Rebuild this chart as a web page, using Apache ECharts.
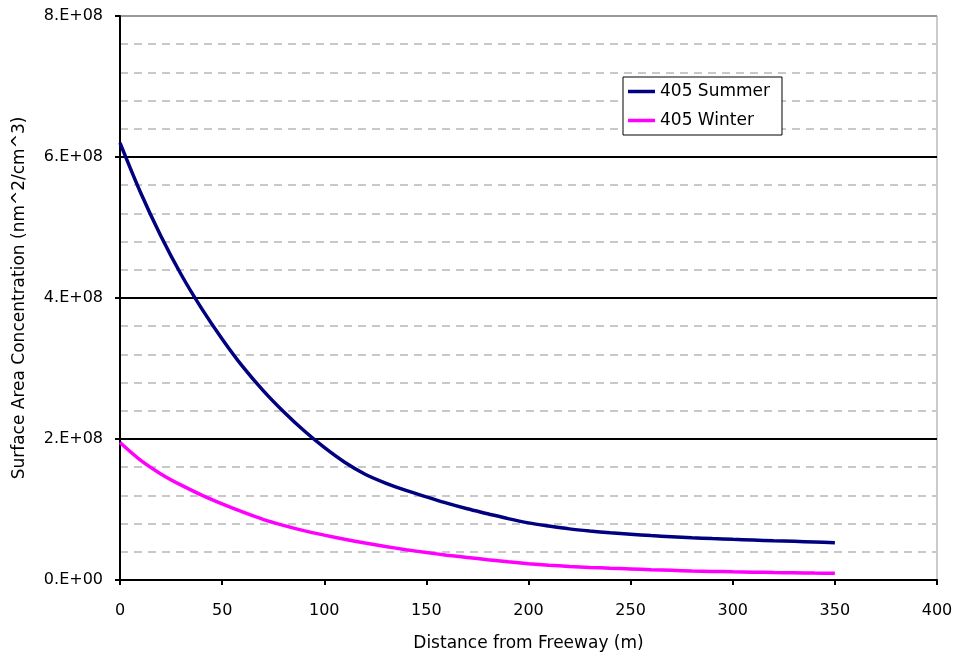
<!DOCTYPE html>
<html>
<head>
<meta charset="utf-8">
<script src="https://cdn.jsdelivr.net/npm/echarts@6/dist/echarts.min.js"></script>
<style>
html,body{margin:0;padding:0;background:#fff;}
#chart{width:954px;height:655px;}
</style>
</head>
<body>
<div id="chart"></div>
<script>
const distances = [0,10,20,30,40,50,60,70,80,90,100,110,120,130,140,150,160,170,180,190,200,210,220,230,240,250,260,270,280,290,300,310,320,330,340,350];
const summer = [6.2,5.5,4.88,4.33,3.85,3.42,3.03,2.69,2.39,2.12,1.88,1.67,1.50,1.375,1.27,1.18,1.09,1.01,0.94,0.87,0.81,0.765,0.725,0.695,0.67,0.65,0.63,0.615,0.60,0.588,0.577,0.567,0.557,0.548,0.539,0.53];
const winter = [1.95,1.70,1.505,1.345,1.205,1.08,0.965,0.86,0.775,0.70,0.637,0.578,0.524,0.475,0.43,0.39,0.352,0.32,0.288,0.258,0.232,0.21,0.193,0.179,0.167,0.157,0.146,0.137,0.129,0.122,0.116,0.111,0.106,0.102,0.098,0.095];
const scaleE8 = 1e8;
const yTickLabels = {0:'0.E+00',200000000:'2.E+08',400000000:'4.E+08',600000000:'6.E+08',800000000:'8.E+08'};
const seriesNames = ['405 Summer','405 Winter'];
const xName = 'Distance from Freeway (m)';
const yName = 'Surface Area Concentration (nm^2/cm^3)';

const font = 'DejaVu Sans';
const chart = echarts.init(document.getElementById('chart'), null, {renderer:'canvas'});
function pairs(vals){ return distances.map((d,i)=>[d, vals[i]*scaleE8]); }
chart.setOption({
  animation:false,
  backgroundColor:'#fff',
  grid:{left:120,right:17,top:16,bottom:75,show:true,borderColor:'#999',borderWidth:1,backgroundColor:'transparent',
        containLabel:false,outerBoundsMode:'none'},
  legend:{
    orient:'vertical', left:623, top:77,
    backgroundColor:'#fff', borderColor:'#000', borderWidth:1,
    padding:[6,12,6,5], itemWidth:27, itemHeight:3.5, itemGap:12,
    textStyle:{fontFamily:font,fontSize:17,color:'#000'},
    data:seriesNames.map(n=>({name:n,icon:'rect'})),
    itemStyle:{borderWidth:0}
  },
  xAxis:{
    type:'value', min:0, max:400, interval:50,
    name:xName, nameLocation:'middle', nameGap:55,
    nameTextStyle:{fontFamily:font,fontSize:17,color:'#000'},
    axisLine:{show:true,lineStyle:{color:'#000',width:2}},
    axisTick:{show:true,inside:false,length:5,lineStyle:{color:'#000',width:2}},
    axisLabel:{fontFamily:font,fontSize:16,color:'#000',margin:23},
    splitLine:{show:false}
  },
  yAxis:{
    type:'value', min:0, max:8e8, interval:2e8,
    name:yName, nameLocation:'middle', nameGap:92,
    nameTextStyle:{fontFamily:font,fontSize:17,color:'#000'},
    axisLine:{show:true,lineStyle:{color:'#000',width:2}},
    axisTick:{show:true,inside:false,length:5,lineStyle:{color:'#000',width:2}},
    axisLabel:{fontFamily:font,fontSize:16,color:'#000',margin:17,formatter:v=>yTickLabels[v] ?? ''},
    splitLine:{show:true,lineStyle:{color:['#000','#000','#000','#000','#999'],width:2}},
    minorTick:{show:true,splitNumber:5,length:0},
    minorSplitLine:{show:true,lineStyle:{color:'#c8c8c8',width:2,type:[8,6]}}
  },
  series:[
    {name:seriesNames[0],type:'line',data:pairs(summer),showSymbol:false,symbol:'none',smooth:0.3,
     lineStyle:{color:'#000080',width:3.5},itemStyle:{color:'#000080'}},
    {name:seriesNames[1],type:'line',data:pairs(winter),showSymbol:false,symbol:'none',smooth:0.3,
     lineStyle:{color:'#ff00ff',width:3.5},itemStyle:{color:'#ff00ff'}}
  ]
});
</script>
</body>
</html>
